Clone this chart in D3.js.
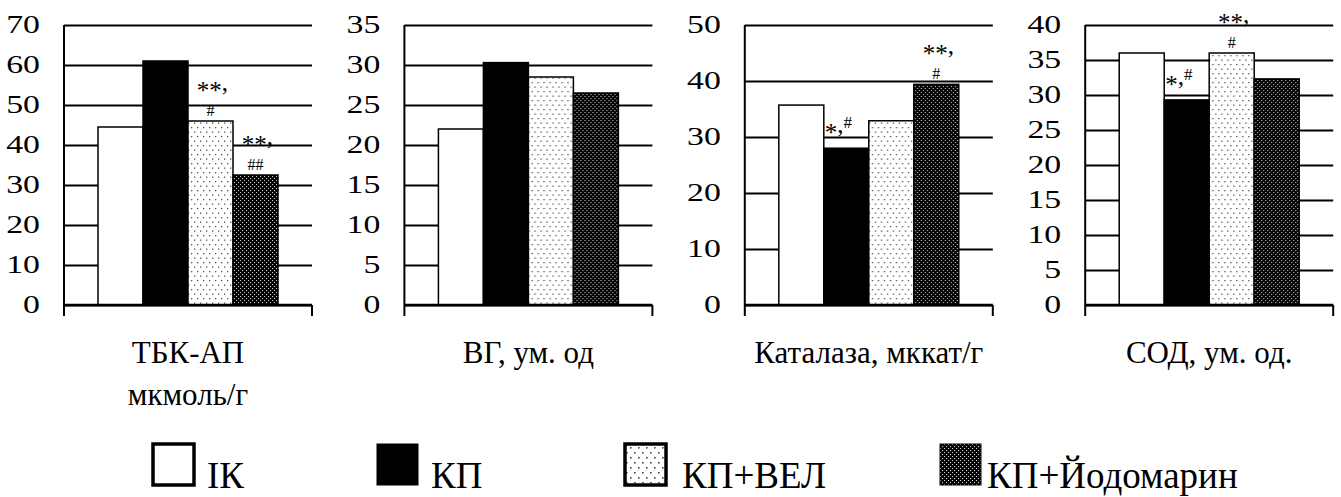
<!DOCTYPE html>
<html>
<head>
<meta charset="utf-8">
<script src="https://cdn.jsdelivr.net/npm/d3@7"></script>
<style>
  body { margin: 0; background: #fff; }
</style>
</head>
<body>
<script>
// ---------------- DATA ----------------
const series = ["ІК", "КП", "КП+ВЕЛ", "КП+Йодомарин"];

const panelTitles = [["ТБК-АП", "мкмоль/г"], ["ВГ, ум. од"], ["Каталаза, мккат/г"], ["СОД, ум. од."]];

const valuesTBK = [44.5, 61, 46, 32.5];
const valuesVG  = [22, 30.3, 28.5, 26.5];
const valuesCat = [35.7, 28, 32.9, 39.4];
const valuesSOD = [36, 29.3, 36, 32.3];

const ticksTBK = [0, 10, 20, 30, 40, 50, 60, 70];
const ticksVG  = [0, 5, 10, 15, 20, 25, 30, 35];
const ticksCat = [0, 10, 20, 30, 40, 50];
const ticksSOD = [0, 5, 10, 15, 20, 25, 30, 35, 40];

// significance marks: panel index, series index, kind, texts
const marks = [
  { panel: 0, s: 2, kind: "above", top: "**,", bottom: "#" },
  { panel: 0, s: 3, kind: "above", top: "**,", bottom: "##" },
  { panel: 2, s: 1, kind: "inline", star: "*,", sup: "#" },
  { panel: 2, s: 3, kind: "above", top: "**,", bottom: "#" },
  { panel: 3, s: 1, kind: "inline", star: "*,", sup: "#" },
  { panel: 3, s: 2, kind: "above", top: "**,", bottom: "#" }
];

const panelValues = [valuesTBK, valuesVG, valuesCat, valuesSOD];
const panelTicks = [ticksTBK, ticksVG, ticksCat, ticksSOD];

// ---------------- LAYOUT ----------------
const FONT = "'Liberation Serif'";
const W = 1341, H = 497;
const plotTop = 25, plotBottom = 305, plotW = 248;
const panelX0 = 64, panelStep = 340.4;
const fills = ["#fff", "#000", "url(#dots)", "url(#dense)"];
const legendFills = ["#fff", "#000", "url(#dotsL)", "url(#denseL)"];
const legendBoxX = [153, 377, 625, 940];
const legendTextX = [207, 431, 682, 987];

const svg = d3.select("body").append("svg").attr("width", W).attr("height", H)
  .attr("font-family", FONT);

// patterns
const defs = svg.append("defs");
function dotPattern(id, w, h, bg, fg, pts, r) {
  const p = defs.append("pattern").attr("id", id).attr("patternUnits", "userSpaceOnUse")
    .attr("width", w).attr("height", h);
  p.append("rect").attr("width", w).attr("height", h).attr("fill", bg);
  pts.forEach(([x, y]) => p.append("rect").attr("x", x).attr("y", y).attr("width", r).attr("height", r).attr("fill", fg));
}
dotPattern("dots", 6, 9, "#fff", "#555", [[1, 1], [4, 5.5]], 1.3);
dotPattern("dense", 4, 4, "#000", "#c8c8c8", [[0, 0], [2, 2]], 1.1);
dotPattern("dotsL", 8, 10, "#fff", "#444", [[2, 2], [6, 7]], 1.6);
dotPattern("denseL", 4, 4, "#000", "#d0d0d0", [[0, 0], [2, 2]], 1.1);

panelValues.forEach((vals, i) => {
  const x0 = panelX0 + i * panelStep;
  const ticks = panelTicks[i];
  const g = svg.append("g").attr("transform", `translate(${x0},0)`);
  const y = d3.scaleLinear().domain([0, d3.max(ticks)]).range([plotBottom, plotTop]);
  const xb = d3.scaleBand().domain(series).range([0, plotW]).paddingInner(0).paddingOuter(0.756);

  // gridlines + tick labels
  const ax = g.append("g").call(
    d3.axisLeft(y).tickValues(ticks).tickSize(-plotW).tickSizeOuter(0).tickPadding(24)
  );
  ax.attr("font-family", FONT).attr("font-size", 26);
  ax.select(".domain").remove();
  ax.selectAll(".tick line").attr("stroke", "#000").attr("stroke-width", 2);
  ax.selectAll(".tick text")
    .attr("fill", "#000")
    .attr("font-family", FONT)
    .attr("font-size", 26)
    .attr("x", -24 / 1.3)
    .attr("dy", "0.28em")
    .attr("transform", "scale(1.3,1)");

  // bars
  g.selectAll("rect.bar").data(vals).join("rect")
    .attr("class", "bar")
    .attr("x", (d, j) => xb(series[j]))
    .attr("y", d => y(d))
    .attr("width", xb.bandwidth())
    .attr("height", d => y(0) - y(d))
    .attr("fill", (d, j) => fills[j])
    .attr("stroke", "#000")
    .attr("stroke-width", 1.5);

  // axes lines
  g.append("line").attr("x1", 0).attr("x2", 0).attr("y1", y(d3.max(ticks))).attr("y2", plotBottom + 11)
    .attr("stroke", "#000").attr("stroke-width", 2);
  g.append("line").attr("x1", 0).attr("x2", plotW).attr("y1", y(0)).attr("y2", y(0))
    .attr("stroke", "#000").attr("stroke-width", 2.5);
  g.append("line").attr("x1", plotW).attr("x2", plotW).attr("y1", y(0)).attr("y2", plotBottom + 11)
    .attr("stroke", "#000").attr("stroke-width", 2);

  // category title
  panelTitles[i].forEach((line, k) => {
    g.append("text").attr("x", plotW / 2).attr("y", 363 + k * 42)
      .attr("text-anchor", "middle").attr("font-family", FONT).attr("font-size", 31).text(line);
  });

  // significance marks
  marks.filter(m => m.panel === i).forEach(m => {
    const top = y(vals[m.s]);
    const bx = xb(series[m.s]);
    const cx = bx + xb.bandwidth() / 2;
    const fs = 25;
    const rise = 0.52 * fs;
    if (m.kind === "above") {
      const starCenter = top - 35;
      const tt = g.append("text").attr("x", cx + 2).attr("y", starCenter + rise)
        .attr("text-anchor", "middle").attr("font-family", FONT).attr("font-size", fs);
      tt.append("tspan").text(m.top.slice(0, -1));
      tt.append("tspan").attr("dy", -8).text(m.top.slice(-1));
      g.append("text").attr("x", cx).attr("y", top - 5)
        .attr("text-anchor", "middle").attr("font-family", FONT).attr("font-size", 16).text(m.bottom);
    } else {
      const starCenter = top - 20;
      const tt = g.append("text").attr("x", bx + 1).attr("y", starCenter + rise)
        .attr("font-family", FONT).attr("font-size", fs);
      tt.append("tspan").text(m.star.slice(0, 1));
      tt.append("tspan").attr("dy", -8).text(m.star.slice(1));
      tt.append("tspan").attr("dy", -5).attr("font-size", 17).text(m.sup);
    }
  });
});

// legend
series.forEach((s, j) => {
  svg.append("rect").attr("x", legendBoxX[j]).attr("y", 444).attr("width", 41).attr("height", 41)
    .attr("fill", legendFills[j]).attr("stroke", "#000").attr("stroke-width", j === 1 || j === 3 ? 1 : 3.5);
  svg.append("text").attr("x", legendTextX[j]).attr("y", 488)
    .attr("font-family", FONT).attr("font-size", 37).text(s);
});
</script>
</body>
</html>
